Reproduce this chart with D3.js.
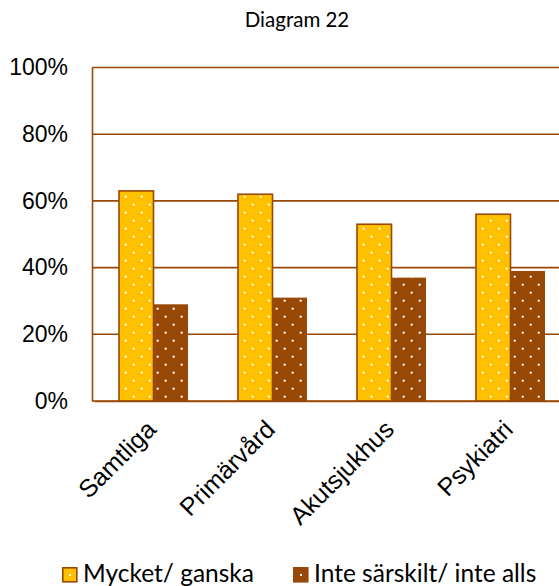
<!DOCTYPE html>
<html lang="sv">

<head>
    <meta charset="UTF-8">
    <title>Diagram 22</title>
    <script src="https://d3js.org/d3.v7.min.js"></script>
    <style>
        body {
            margin: 0;
            padding: 0;
            background: #fff;
            overflow: hidden;
        }

        svg {
            display: block;
            font-family: 'Lato', 'Open Sans', sans-serif;
        }

        .y-axis text {
            font-size: 23px;
            fill: #000;
        }

        .x-axis text {
            font-size: 25px;
            fill: #000;
        }

        .legend text {
            font-size: 24.5px;
            fill: #000;
        }
    </style>
</head>

<body>
    <svg></svg>

    <script>
        const categories = ["Samtliga", "Primärvård", "Akutsjukhus", "Psykiatri"];
        const seriesNames = ["Mycket/ ganska", "Inte särskilt/ inte alls"];
        const mycket = [63, 62, 53, 56];
        const inte = [29, 31, 37, 39];
        const yTicks = [0, 20, 40, 60, 80, 100];

        const W = 559, H = 586;
        // plot area (Excel layout, the right part runs off the page)
        const plot = { left: 92, right: 568, top: 67.5, bottom: 401 };

        const brown = "#984807";
        const yellow = "#FFC000";

        const svg = d3.select("svg")
            .attr("width", W)
            .attr("height", H);

        // dotted fill patterns
        const defs = svg.append("defs");
        [["dotsYellow", yellow], ["dotsBrown", brown]].forEach(([id, col]) => {
            const p = defs.append("pattern")
                .attr("id", id)
                .attr("patternUnits", "userSpaceOnUse")
                .attr("x", 5.7)
                .attr("y", 3.7)
                .attr("width", 16)
                .attr("height", 16);
            p.append("rect").attr("width", 16).attr("height", 16).attr("fill", col);
            p.append("rect").attr("x", 0).attr("y", 0).attr("width", 2).attr("height", 2).attr("fill", "#fff");
            p.append("rect").attr("x", 8).attr("y", 8).attr("width", 2).attr("height", 2).attr("fill", "#fff");
        });

        // bars start a little right of the axis, like Excel's gap layout
        const x = d3.scaleBand()
            .domain(categories)
            .range([plot.left + 2, plot.right + 2])
            .paddingInner(0.42)
            .paddingOuter(0.21);

        const sub = d3.scaleBand()
            .domain([0, 1])
            .range([0, x.bandwidth()]);

        const y = d3.scaleLinear()
            .domain([0, 100])
            .range([plot.bottom, plot.top]);

        // title
        svg.append("text")
            .attr("x", 297)
            .attr("y", 27)
            .attr("text-anchor", "middle")
            .style("font-size", "20.5px")
            .text("Diagram 22");

        // gridlines
        svg.append("g")
            .selectAll("line")
            .data(yTicks)
            .join("line")
            .attr("x1", plot.left)
            .attr("x2", W)
            .attr("y1", d => y(d))
            .attr("y2", d => y(d))
            .attr("stroke", brown)
            .attr("stroke-width", 1.6);

        // y axis
        const yAxis = svg.append("g")
            .attr("class", "y-axis")
            .attr("transform", `translate(${plot.left},0)`)
            .call(d3.axisLeft(y).tickValues(yTicks).tickFormat(d => d + "%").tickSize(0).tickPadding(24));
        yAxis.select(".domain").attr("stroke", brown).attr("stroke-width", 1.6);

        // bars
        const rows = categories.map((c, i) => ({ cat: c, values: [mycket[i], inte[i]] }));

        const groups = svg.append("g")
            .selectAll("g")
            .data(rows)
            .join("g")
            .attr("transform", d => `translate(${x(d.cat)},0)`);

        groups.selectAll("rect")
            .data(d => d.values.map((v, k) => ({ k, v })))
            .join("rect")
            .attr("x", d => sub(d.k))
            .attr("width", sub.bandwidth())
            .attr("y", d => y(d.v))
            .attr("height", d => y(0) - y(d.v))
            .attr("fill", d => d.k === 0 ? "url(#dotsYellow)" : "url(#dotsBrown)")
            .attr("stroke", brown)
            .attr("stroke-width", d => d.k === 0 ? 1.6 : 0);

        // x axis
        const xAxis = svg.append("g")
            .attr("class", "x-axis")
            .attr("transform", `translate(0,${plot.bottom})`)
            .call(d3.axisBottom(x).tickSize(0));
        xAxis.select(".domain").attr("stroke", brown).attr("stroke-width", 1.6);
        xAxis.selectAll("text")
            .attr("x", 0)
            .attr("y", 0)
            .attr("dy", 0)
            .attr("text-anchor", "end")
            .attr("transform", "translate(4,30) rotate(-45)");

        // legend
        const legendX = [62, 293];
        const legend = svg.append("g").attr("class", "legend");
        seriesNames.forEach((name, k) => {
            const g = legend.append("g").attr("transform", `translate(${legendX[k]},567)`);
            g.append("rect")
                .attr("x", 0.8)
                .attr("y", 0.8)
                .attr("width", 14)
                .attr("height", 14)
                .attr("fill", k === 0 ? yellow : brown)
                .attr("stroke", brown)
                .attr("stroke-width", 1.6);
            g.append("rect")
                .attr("x", 7)
                .attr("y", 7)
                .attr("width", 2)
                .attr("height", 2)
                .attr("fill", "#fff");
            g.append("text")
                .attr("x", 21)
                .attr("y", 15)
                .text(name);
        });
    </script>
</body>

</html>
